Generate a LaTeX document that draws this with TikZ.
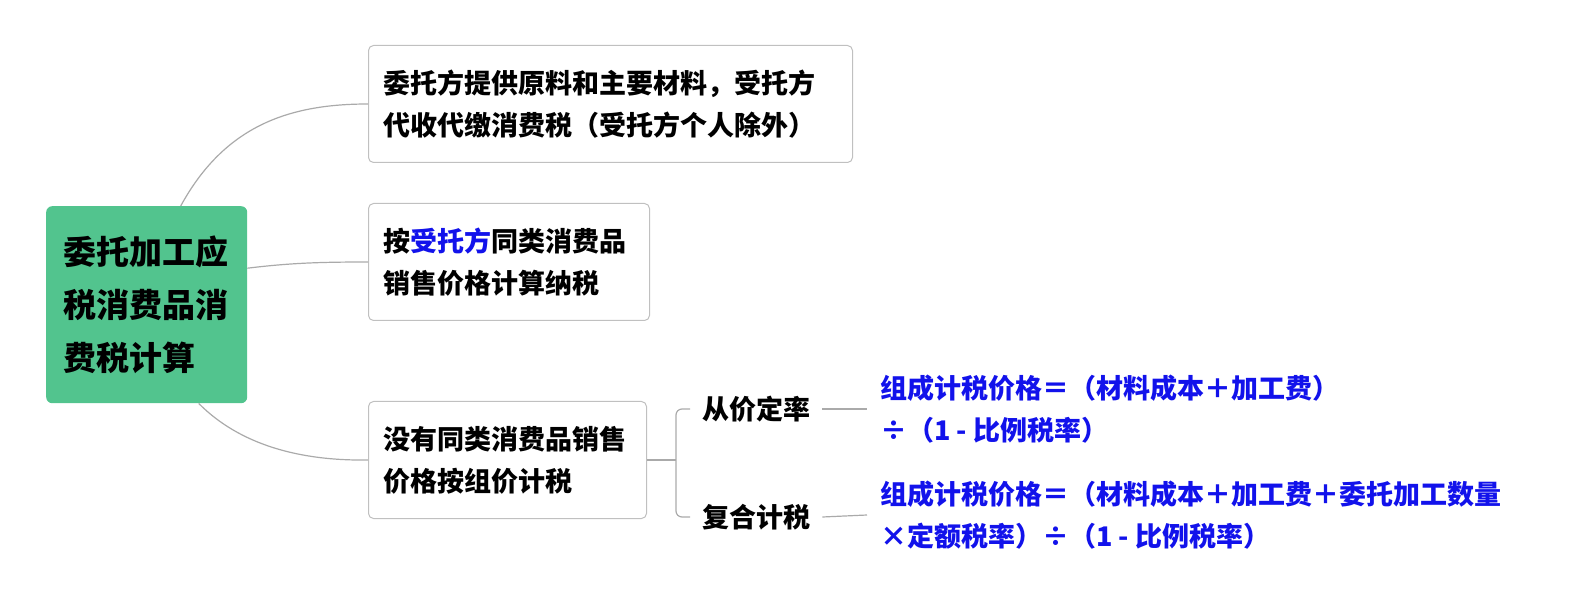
\documentclass[tikz,border=0pt]{standalone}
\usepackage{fontspec}
\setmainfont{Noto Sans CJK SC}[BoldFont={Noto Sans CJK SC Black}]
\usetikzlibrary{calc}
\definecolor{rootgreen}{RGB}{82,196,142}
\definecolor{linegray}{RGB}{170,170,170}
\definecolor{boxgray}{RGB}{192,192,192}
\definecolor{formblue}{RGB}{18,18,235}
\tikzset{
  conn/.style={draw=linegray, line width=1.2pt},
  rootbox/.style={fill=rootgreen, draw=none, rounded corners=6pt, anchor=north west,
    minimum width=201pt, minimum height=197pt, align=left, inner xsep=17pt,
    text width=167pt, font=\fontsize{33}{53}\selectfont\bfseries},
  topicbox/.style={fill=white, draw=boxgray, line width=1pt, rounded corners=5pt, anchor=north west,
    minimum height=117pt, align=left, inner xsep=15pt,
    font=\fontsize{27}{42}\selectfont\bfseries},
  sublabel/.style={anchor=west, inner xsep=12pt, inner ysep=0pt, font=\fontsize{27}{42}\selectfont\bfseries},
  formula/.style={anchor=west, inner xsep=13pt, inner ysep=0pt, align=left, text=formblue,
    font=\fontsize{27}{42}\selectfont\bfseries}
}
\begin{document}
\begin{tikzpicture}[x=1pt, y=-1pt]
\useasboundingbox (0,0) rectangle (1572,609);
\node[rootbox] (root) at (46,206) {委托加工应\\税消费品消\\费税计算};
\node[topicbox, text width=454pt] (b1) at (368,45) {委托方提供原料和主要材料，受托方\\代收代缴消费税（受托方个人除外）};
\node[topicbox, text width=251pt] (b2) at (368,203) {按\textcolor{formblue}{受托方}同类消费品\\销售价格计算纳税};
\node[topicbox, text width=248pt] (b3) at (368,401) {没有同类消费品销售\\价格按组价计税};
\node[sublabel] (l1) at (690,409) {从价定率};
\node[sublabel] (l2) at (690,517) {复合计税};
\node[formula] (f1) at (867,409) {组成计税价格＝（材料成本＋加工费）\\÷（1 - 比例税率）};
\node[formula] (f2) at (867,515) {组成计税价格＝（材料成本＋加工费＋委托加工数量\\×定额税率）÷（1 - 比例税率）};
\coordinate (j) at (676,461);
\draw[conn] ([xshift=34pt]root.north) .. controls (225,125) and (290,104) .. (b1.west);
\draw[conn] ([yshift=36.5pt]root.east) .. controls (290,263) and (320,262) .. (b2.west);
\draw[conn] ([xshift=52pt]root.south) .. controls (240,445) and (300,461) .. (b3.west);
\draw[conn] (b3.east) -- (b3.east -| j);
\draw[conn, rounded corners=6pt] (l1.west) -| (j) |- (l2.west);
\draw[conn] (l1.east) -- (f1.west);
\draw[conn] (l2.east) -- (f2.west);
\end{tikzpicture}
\end{document}
